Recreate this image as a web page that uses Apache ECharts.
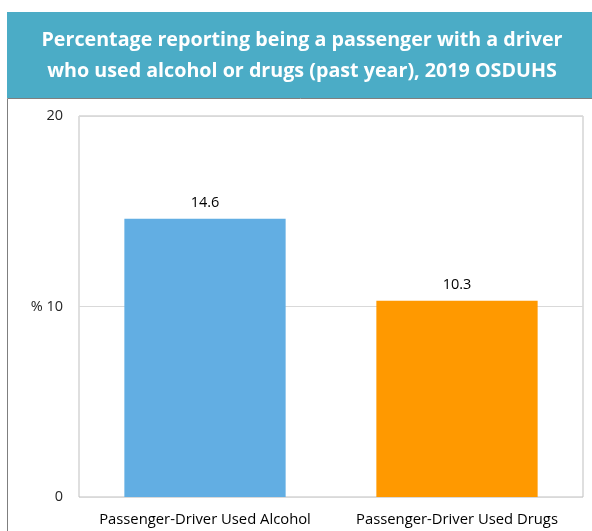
<!DOCTYPE html>
<html>
<head>
<meta charset="utf-8">
<script src="https://cdn.jsdelivr.net/npm/echarts@6/dist/echarts.min.js"></script>
<style>
  html, body { margin: 0; padding: 0; background: #fff; }
  #chart { width: 592px; height: 531px; }
</style>
</head>
<body>
<div id="chart"></div>
<script>
var categories = ['Passenger-Driver Used Alcohol', 'Passenger-Driver Used Drugs'];
var values = [14.6, 10.3];
var barColors = ['#62AEE3', '#FF9900'];

var chart = echarts.init(document.getElementById('chart'));

var seriesData = [];
for (var i = 0; i < values.length; i++) {
  seriesData.push({ value: values[i], itemStyle: { color: barColors[i] } });
}

var option = {
  animation: false,
  title: {
    text: 'Percentage reporting being a passenger with a driver\nwho used alcohol or drugs (past year), 2019 OSDUHS',
    left: 297,
    textAlign: 'center',
    top: 20,
    textStyle: {
      color: '#fff',
      fontFamily: 'Open Sans',
      fontWeight: 'bold',
      fontSize: 19.7,
      lineHeight: 31
    }
  },
  graphic: [
    { type: 'rect', z: -10, shape: { x: 7, y: 12, width: 600, height: 86 }, style: { fill: '#4BACC6' } },
    { type: 'rect', z: -10, shape: { x: 7.5, y: 98.5, width: 600, height: 460 }, style: { fill: 'none', stroke: '#7f7f7f', lineWidth: 1 } }
  ],
  grid: {
    left: 79, right: 9, top: 116, bottom: 34,
    show: true, borderColor: '#bfbfbf', borderWidth: 1
  },
  xAxis: {
    type: 'category',
    data: categories,
    axisLine: { show: false },
    axisTick: { show: false },
    axisLabel: { margin: 15, color: '#000', fontFamily: 'Open Sans', fontSize: 14.8, interval: 0 }
  },
  yAxis: {
    type: 'value',
    min: 0, max: 20, interval: 10,
    axisLine: { show: false },
    axisTick: { show: false },
    splitLine: { lineStyle: { color: '#d9d9d9' } },
    axisLabel: {
      margin: 16, color: '#262626', fontFamily: 'Open Sans', fontSize: 14.5,
      formatter: function (v) { return v === 10 ? '% ' + v : String(v); }
    }
  },
  series: [{
    type: 'bar',
    data: seriesData,
    barWidth: '64%',
    label: { show: true, position: 'top', distance: 8, color: '#000', fontFamily: 'Open Sans', fontSize: 14.5 }
  }]
};

chart.setOption(option);
</script>
</body>
</html>
